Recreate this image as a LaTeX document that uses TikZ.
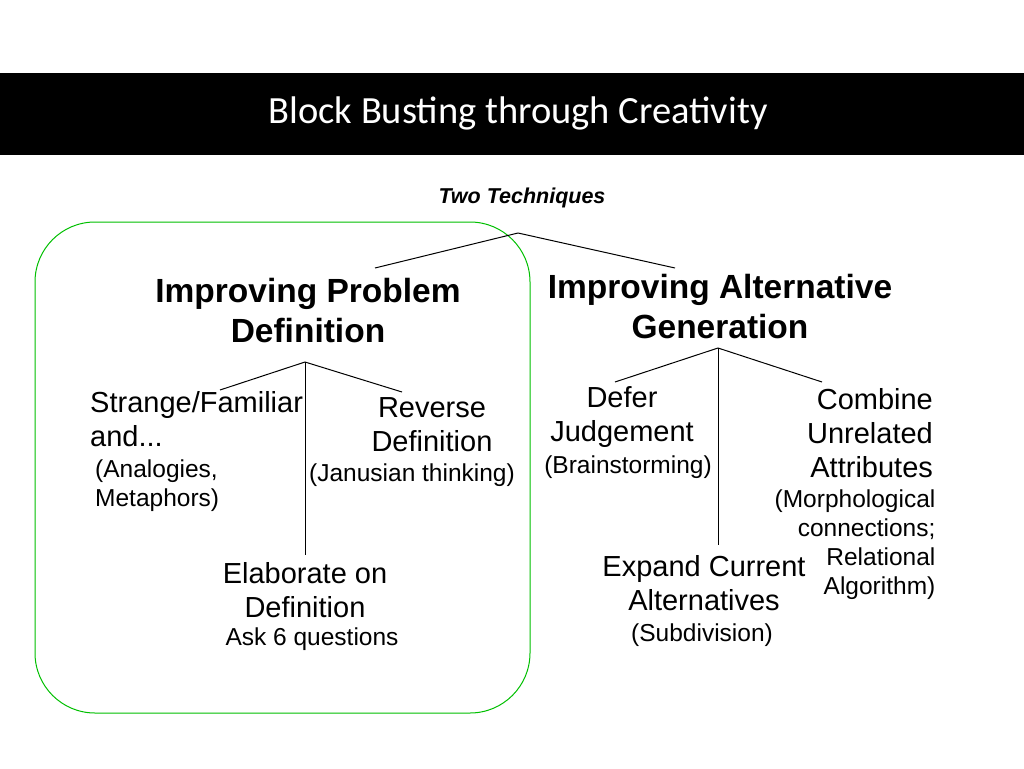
\documentclass[tikz,border=0pt]{standalone}
\usepackage{fontspec}
\setmainfont{Liberation Sans}
\newfontfamily\titlefont{Carlito}
\begin{document}
\begin{tikzpicture}[x=1pt,y=-1pt,
  ln/.style={line width=1pt},
  hd/.style={font=\fontsize{33.5}{40}\selectfont\bfseries,align=center},
  bd/.style={font=\fontsize{29}{34}\selectfont,align=center},
  sm/.style={font=\fontsize{24.5}{29}\selectfont,align=center}]
\useasboundingbox (0,0) rectangle (1024,768);
\fill[black] (0,73) rectangle (1024,155);
\node[text=white,font=\titlefont\fontsize{38.5}{44}\selectfont] (title) at (518,113) {Block Busting through Creativity};
\node[font=\fontsize{21.5}{26}\selectfont\bfseries\itshape] (two) at (522,198) {Two Techniques};
\draw[green!75!black,line width=1pt,rounded corners=60] (35,222) rectangle (530,713);
\coordinate (a0) at (518,233);
\node[hd] (ipd) at (308,311) {Improving Problem\\Definition};
\node[hd] (iag) at (720,307) {Improving Alternative\\Generation};
\draw[ln] (a0) -- (375,268);
\draw[ln] (a0) -- (675,268);
\coordinate (l0) at (305,362);
\draw[ln] (l0) -- (220,390); \draw[ln] (l0) -- (402,392); \draw[ln] (l0) -- (305,555);
\node[bd,align=left,anchor=north west,inner sep=0] (sf) at (90,391) {Strange/Familiar\\and...};
\node[sm,align=left,anchor=north west,inner sep=0] (sf2) at (95,460) {(Analogies,\\ Metaphors)};
\node[bd] (rd) at (432,425) {Reverse\\Definition};
\node[sm] (jt) at (412,475) {(Janusian thinking)};
\node[bd] (eo) at (305,590) {Elaborate on\\Definition};
\node[sm] (aq) at (312,639) {Ask 6 questions};
\coordinate (r0) at (718,348);
\draw[ln] (r0) -- (615,382); \draw[ln] (r0) -- (822,382); \draw[ln] (r0) -- (718,545);
\node[bd] (dj) at (622,417) {Defer\\ Judgement};
\node[sm] (bs) at (628,467) {(Brainstorming)};
\node[bd,align=right] (cu) at (870,433) {Combine\\Unrelated\\Attributes};
\node[sm,align=right] (mc) at (855,545) {(Morphological\\connections;\\Relational\\Algorithm)};
\node[bd] (ec) at (704,583) {Expand Current\\Alternatives};
\node[sm] (sd) at (702,635) {(Subdivision)};
\end{tikzpicture}
\end{document}
